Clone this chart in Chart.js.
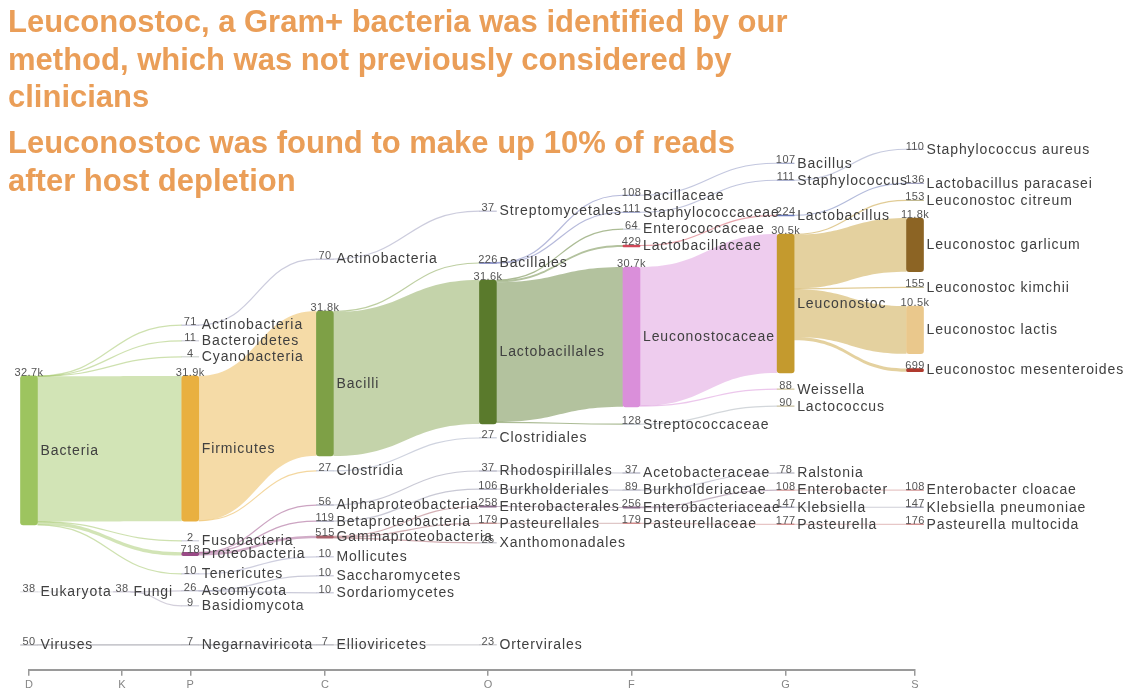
<!DOCTYPE html>
<html>
<head>
<meta charset="utf-8">
<script src="https://cdn.jsdelivr.net/npm/chart.js@4.4.1/dist/chart.umd.min.js"></script>
<style>
html,body{margin:0;padding:0;background:#fff;}
#wrap{position:relative;width:1127px;height:696px;overflow:hidden;background:#fff;}
#c{position:absolute;left:0;top:0;}
.title{position:absolute;left:8px;font:bold 31px "Liberation Sans",Arial,sans-serif;color:#EA9E58;line-height:37.5px;white-space:nowrap;}
</style>
</head>
<body>
<div id="wrap">
<canvas id="c" width="1127" height="696"></canvas>
<div class="title" style="top:3px">Leuconostoc, a Gram+ bacteria was identified by our<br>method, which was not previously considered by<br>clinicians</div>
<div class="title" style="top:124px">Leuconostoc was found to make up 10% of reads<br>after host depletion</div>
</div>
<script>
// ---------- axis (taxonomic levels) ----------
const levels = ['D', 'K', 'P', 'C', 'O', 'F', 'G', 'S'];
const levelTicks = [0, 1.05, 1.82, 3.34, 5.18, 6.80, 8.54, 10];

// ---------- nodes ----------
const nodeLevel = [
  'D','D','D',
  'K',
  'P','P','P','P','P','P','P','P','P','P',
  'C','C','C','C','C','C','C','C','C','C',
  'O','O','O','O','O','O','O','O','O','O',
  'F','F','F','F','F','F','F','F','F','F',
  'G','G','G','G','G','G','G','G','G','G',
  'S','S','S','S','S','S','S','S','S','S'
];
const nodeName = [
  'Bacteria','Eukaryota','Viruses',
  'Fungi',
  'Actinobacteria','Bacteroidetes','Cyanobacteria','Firmicutes','Fusobacteria','Proteobacteria','Tenericutes','Ascomycota','Basidiomycota','Negarnaviricota',
  'Actinobacteria','Bacilli','Clostridia','Alphaproteobacteria','Betaproteobacteria','Gammaproteobacteria','Mollicutes','Saccharomycetes','Sordariomycetes','Ellioviricetes',
  'Streptomycetales','Bacillales','Lactobacillales','Clostridiales','Rhodospirillales','Burkholderiales','Enterobacterales','Pasteurellales','Xanthomonadales','Ortervirales',
  'Bacillaceae','Staphylococcaceae','Enterococcaceae','Lactobacillaceae','Leuconostocaceae','Streptococcaceae','Acetobacteraceae','Burkholderiaceae','Enterobacteriaceae','Pasteurellaceae',
  'Bacillus','Staphylococcus','Lactobacillus','Leuconostoc','Weissella','Lactococcus','Ralstonia','Enterobacter','Klebsiella','Pasteurella',
  'Staphylococcus aureus','Lactobacillus paracasei','Leuconostoc citreum','Leuconostoc garlicum','Leuconostoc kimchii','Leuconostoc lactis','Leuconostoc mesenteroides','Enterobacter cloacae','Klebsiella pneumoniae','Pasteurella multocida'
];
const nodeReads = [
  32700, 38, 50,
  38,
  71, 11, 4, 31900, 2, 718, 10, 26, 9, 7,
  70, 31800, 27, 56, 119, 515, 10, 10, 10, 7,
  37, 226, 31600, 27, 37, 106, 258, 179, 25, 23,
  108, 111, 64, 429, 30700, 128, 37, 89, 256, 179,
  107, 111, 224, 30500, 88, 90, 78, 108, 147, 177,
  110, 136, 153, 11800, 155, 10500, 699, 108, 147, 176
];

// ---------- links ----------
const linkFrom = [
  'D:Bacteria','D:Bacteria','D:Bacteria','D:Bacteria','D:Bacteria','D:Bacteria','D:Bacteria',
  'D:Eukaryota','D:Viruses','D:Viruses','K:Fungi','K:Fungi',
  'P:Actinobacteria','P:Firmicutes','P:Firmicutes','P:Proteobacteria','P:Proteobacteria','P:Proteobacteria','P:Tenericutes','P:Ascomycota','P:Ascomycota','P:Negarnaviricota',
  'C:Actinobacteria','C:Bacilli','C:Bacilli','C:Clostridia','C:Alphaproteobacteria','C:Betaproteobacteria','C:Gammaproteobacteria','C:Gammaproteobacteria','C:Gammaproteobacteria',
  'O:Bacillales','O:Bacillales','O:Lactobacillales','O:Lactobacillales','O:Lactobacillales','O:Lactobacillales','O:Rhodospirillales','O:Burkholderiales','O:Enterobacterales','O:Pasteurellales',
  'F:Bacillaceae','F:Staphylococcaceae','F:Lactobacillaceae','F:Leuconostocaceae','F:Leuconostocaceae','F:Streptococcaceae','F:Burkholderiaceae','F:Enterobacteriaceae','F:Enterobacteriaceae','F:Pasteurellaceae',
  'G:Staphylococcus','G:Lactobacillus','G:Leuconostoc','G:Leuconostoc','G:Leuconostoc','G:Leuconostoc','G:Leuconostoc','G:Enterobacter','G:Klebsiella','G:Pasteurella'
];
const linkTo = [
  'P:Actinobacteria','P:Bacteroidetes','P:Cyanobacteria','P:Firmicutes','P:Fusobacteria','P:Proteobacteria','P:Tenericutes',
  'K:Fungi','P:Negarnaviricota','O:Ortervirales','P:Ascomycota','P:Basidiomycota',
  'C:Actinobacteria','C:Bacilli','C:Clostridia','C:Alphaproteobacteria','C:Betaproteobacteria','C:Gammaproteobacteria','C:Mollicutes','C:Saccharomycetes','C:Sordariomycetes','C:Ellioviricetes',
  'O:Streptomycetales','O:Bacillales','O:Lactobacillales','O:Clostridiales','O:Rhodospirillales','O:Burkholderiales','O:Enterobacterales','O:Pasteurellales','O:Xanthomonadales',
  'F:Bacillaceae','F:Staphylococcaceae','F:Enterococcaceae','F:Lactobacillaceae','F:Leuconostocaceae','F:Streptococcaceae','F:Acetobacteraceae','F:Burkholderiaceae','F:Enterobacteriaceae','F:Pasteurellaceae',
  'G:Bacillus','G:Staphylococcus','G:Lactobacillus','G:Leuconostoc','G:Weissella','G:Lactococcus','G:Ralstonia','G:Enterobacter','G:Klebsiella','G:Pasteurella',
  'S:Staphylococcus aureus','S:Lactobacillus paracasei','S:Leuconostoc citreum','S:Leuconostoc garlicum','S:Leuconostoc kimchii','S:Leuconostoc lactis','S:Leuconostoc mesenteroides','S:Enterobacter cloacae','S:Klebsiella pneumoniae','S:Pasteurella multocida'
];
const linkReads = [
  71, 11, 4, 31900, 2, 718, 10,
  38, 7, 23, 26, 9,
  70, 31800, 27, 56, 119, 515, 10, 10, 10, 7,
  37, 226, 31600, 27, 37, 106, 258, 179, 25,
  108, 111, 64, 429, 30700, 128, 37, 89, 256, 179,
  107, 111, 224, 30500, 88, 90, 78, 108, 147, 177,
  110, 136, 153, 11800, 155, 10500, 699, 108, 147, 176
];

// ---------- layout: vertical placement of each node's top, in thousands of reads on the y scale ----------
const nodeLayoutY = [
  50.48, 97.89, 109.53,
  97.89,
  39.29, 42.80, 46.31, 50.48, 86.70, 89.20, 93.94, 97.67, 100.97, 109.53,
  24.80, 36.22, 71.33, 78.80, 82.31, 85.58, 90.21, 94.38, 98.11, 109.53,
  14.27, 25.57, 29.41, 64.09, 71.33, 75.29, 79.02, 82.75, 87.14, 109.53,
  10.76, 14.49, 18.22, 21.73, 26.56, 61.02, 71.77, 75.50, 79.24, 82.75,
  3.73, 7.46, 15.14, 19.32, 53.34, 57.07, 71.77, 75.50, 79.24, 82.97,
  0.66, 8.12, 11.85, 15.80, 30.95, 35.12, 48.84, 75.50, 79.24, 82.97
];
// ---------- styles ----------
const nodeColor = [
  '#9DC45F','#D0D0D8','#A8A8B0',
  '#A8A0B8',
  '#9A9ABC','#B0B0C4','#B0B8B0','#E9B040','#B0B0C4','#9A4A86','#A0A0C0','#9898B4','#B0B0C4','#A8A8B0',
  '#9A9ABC','#7EA046','#A0A8C0','#9494AC','#9494AC','#A8606A','#A0A0C0','#A0A0BC','#A0A0BC','#A8A8B0',
  '#9A9ABC','#6E76B8','#5A7A2C','#A0A8C0','#9A9AB0','#9A9AB0','#8A6A8A','#C09090','#A0A0B0','#A8A8B0',
  '#8890C0','#8890C0','#A0A8B8','#D04858','#DA8FDA','#A8B0B8','#9A9AB0','#9A9AB0','#8A6A8A','#D08C8C',
  '#9098C0','#9098C0','#6878B8','#C49A2E','#D0C49C','#C8C0A0','#A0A0B0','#D09090','#A0A0B0','#D09090',
  '#B0B0C8','#A0A0C0','#C0B890','#8C6424','#C0B890','#EAC88C','#B03A2E','#D09090','#A0A0B0','#D09090'
];

const NODE_W = 17;
const nodeKey = nodeName.map((n, i) => nodeLevel[i] + ':' + n);
const keyIdx = {};
nodeKey.forEach((k, i) => keyIdx[k] = i);
const src = linkFrom.map(k => keyIdx[k]);
const tgt = linkTo.map(k => keyIdx[k]);

function fmt(v) { return v >= 1000 ? (v / 1000).toFixed(1) + 'k' : String(v); }
function hexA(hex, a) {
  const n = parseInt(hex.slice(1), 16);
  return 'rgba(' + ((n >> 16) & 255) + ',' + ((n >> 8) & 255) + ',' + (n & 255) + ',' + a + ')';
}
function levelVal(i) { return levelTicks[levels.indexOf(nodeLevel[i])]; }

const sankeyLinks = {
  id: 'sankeyLinks',
  beforeDatasetsDraw(chart) {
    const { ctx, scales: { x, y } } = chart;
    const n = nodeName.length;
    const outOff = new Array(n).fill(0), inOff = new Array(n).fill(0);
    const ids = linkReads.map((_, i) => i);
    const s0 = [], t0 = [];
    ids.slice().sort((a, b) => nodeLayoutY[tgt[a]] - nodeLayoutY[tgt[b]]).forEach(i => {
      s0[i] = nodeLayoutY[src[i]] + outOff[src[i]]; outOff[src[i]] += linkReads[i] / 1000;
    });
    ids.slice().sort((a, b) => nodeLayoutY[src[a]] - nodeLayoutY[src[b]]).forEach(i => {
      t0[i] = nodeLayoutY[tgt[i]] + inOff[tgt[i]]; inOff[tgt[i]] += linkReads[i] / 1000;
    });
    ctx.save();
    ids.forEach(i => {
      const x0 = x.getPixelForValue(levelVal(src[i])) + NODE_W / 2;
      const x1 = x.getPixelForValue(levelVal(tgt[i])) - NODE_W / 2;
      const xm = (x0 + x1) / 2;
      const w = linkReads[i] / 1000;
      const ya = y.getPixelForValue(s0[i]), yb = y.getPixelForValue(s0[i] + w);
      const yc = y.getPixelForValue(t0[i]), yd = y.getPixelForValue(t0[i] + w);
      const col = nodeColor[src[i]];
      if (yb - ya < 1.2) {
        const ym0 = (ya + yb) / 2, ym1 = (yc + yd) / 2;
        ctx.beginPath();
        ctx.moveTo(x0, ym0);
        ctx.bezierCurveTo(xm, ym0, xm, ym1, x1, ym1);
        ctx.strokeStyle = hexA(col, 0.5);
        ctx.lineWidth = 1.2;
        ctx.stroke();
      } else {
        ctx.beginPath();
        ctx.moveTo(x0, ya);
        ctx.bezierCurveTo(xm, ya, xm, yc, x1, yc);
        ctx.lineTo(x1, yd);
        ctx.bezierCurveTo(xm, yd, xm, yb, x0, yb);
        ctx.closePath();
        ctx.fillStyle = hexA(col, 0.46);
        ctx.fill();
      }
    });
    ctx.restore();
  },
  afterDatasetsDraw(chart) {
    const { ctx, scales: { x, y } } = chart;
    ctx.save();
    nodeName.forEach((name, i) => {
      const cx = x.getPixelForValue(levelVal(i));
      const top = y.getPixelForValue(nodeLayoutY[i]);
      const bot = y.getPixelForValue(nodeLayoutY[i] + nodeReads[i] / 1000);
      ctx.font = '11px "Liberation Sans", Arial, sans-serif';
      ctx.letterSpacing = '0.4px';
      ctx.fillStyle = '#555555';
      ctx.textAlign = 'center';
      ctx.textBaseline = 'alphabetic';
      ctx.fillText(fmt(nodeReads[i]), cx, top + 0.5);
      ctx.font = '14px "Liberation Sans", Arial, sans-serif';
      ctx.letterSpacing = '0.9px';
      ctx.fillStyle = '#404040';
      ctx.textAlign = 'left';
      ctx.textBaseline = 'middle';
      ctx.fillText(name, cx + NODE_W / 2 + 3, (top + bot) / 2 + 0.5);
    });
    ctx.restore();
  }
};

new Chart(document.getElementById('c'), {
  type: 'bar',
  data: {
    datasets: [{
      data: nodeName.map((_, i) => ({ x: levelVal(i), y: [nodeLayoutY[i], nodeLayoutY[i] + nodeReads[i] / 1000] })),
      backgroundColor: nodeColor,
      barThickness: NODE_W,
      borderRadius: 3,
      borderSkipped: false,
      clip: false
    }]
  },
  options: {
    responsive: false,
    animation: false,
    devicePixelRatio: 1,
    layout: { padding: { left: 29, right: 212, top: 146, bottom: 1 } },
    plugins: { legend: { display: false }, tooltip: { enabled: false }, title: { display: false } },
    scales: {
      x: {
        type: 'linear',
        offset: false,
        min: levelTicks[0],
        max: levelTicks[levelTicks.length - 1],
        afterBuildTicks: s => { s.ticks = levelTicks.map(v => ({ value: v })); },
        ticks: {
          autoSkip: false, maxRotation: 0, padding: 3,
          color: '#858585',
          font: { size: 11, family: '"Liberation Sans", Arial, sans-serif' },
          callback: (v, i) => levels[i]
        },
        grid: { display: true, offset: false, drawOnChartArea: false, drawTicks: true, tickLength: 6, color: '#9a9a9a', lineWidth: 1.5 },
        border: { display: true, color: '#9a9a9a', width: 2 }
      },
      y: { type: 'linear', display: false, min: 0, max: 115, reverse: true }
    }
  },
  plugins: [sankeyLinks]
});
</script>
</body>
</html>
